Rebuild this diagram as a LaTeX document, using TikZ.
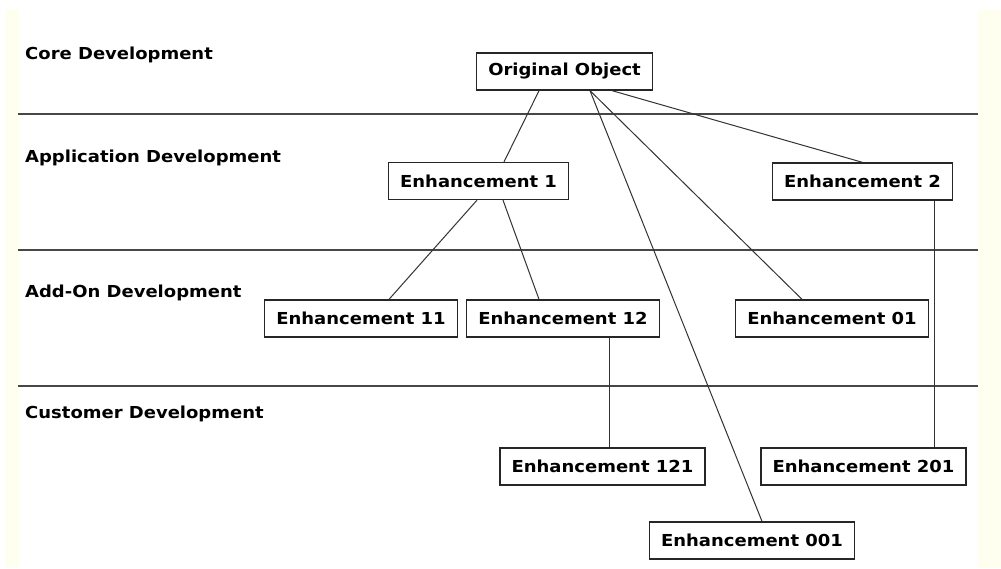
\documentclass[tikz,border=0pt]{standalone}
\usepackage{fontspec}
\setmainfont{DejaVu Sans}[FakeStretch=1.09]
\usetikzlibrary{positioning}
\definecolor{margincream}{HTML}{FFFFF0}
\tikzset{
  lane/.style={draw=black!72, line width=1.5pt},
  lanelabel/.style={anchor=base west, inner sep=0pt, font=\fontsize{16.5}{18}\selectfont\bfseries},
  objbox/.style={draw=black!85, line width=1.3pt, fill=white, minimum height=37pt,
    inner xsep=11.5pt, inner ysep=0pt, font=\fontsize{16.5}{18}\selectfont\bfseries},
  link/.style={draw=black!80, line width=1pt}
}
\begin{document}
\begin{tikzpicture}[x=1pt, y=-1pt]
  % page area and side margins
  \useasboundingbox (0,0) rectangle (1001,568);
  \fill[white] (0,0) rectangle (1001,568);
  \fill[margincream] (5,9) rectangle (19,568);
  \fill[margincream] (977,9) rectangle (1001,568);

  % swim lanes
  \coordinate (l1w) at (18,114);  \coordinate (l1e) at (978,114);
  \coordinate (l2w) at (18,250);  \coordinate (l2e) at (978,250);
  \coordinate (l3w) at (18,386);  \coordinate (l3e) at (978,386);
  \draw[lane] (l1w) -- (l1e);
  \draw[lane] (l2w) -- (l2e);
  \draw[lane] (l3w) -- (l3e);

  \node[lanelabel] (core) at (25,59)  {Core Development};
  \node[lanelabel] (app)  at (25,162) {Application Development};
  \node[lanelabel] (addon) at (25,297) {Add-On Development};
  \node[lanelabel] (cust) at (25,418) {Customer Development};

  % objects
  \node[objbox] (oo)   at (564.5,71.5) {Original Object};
  \node[objbox, anchor=west] (e1) at (388,181) {Enhancement 1};
  \node[objbox] (e2)   at (862.5,181.5) {Enhancement 2};
  \node[objbox] (e11)  at (361,318.5) {Enhancement 11};
  \node[objbox] (e12)  at (563,318.5) {Enhancement 12};
  \node[objbox] (e01)  at (832,318.5) {Enhancement 01};
  \node[objbox] (e121) at (602.5,466.5) {Enhancement 121};
  \node[objbox] (e201) at (863.5,466.5) {Enhancement 201};
  \node[objbox] (e001) at (752,540.5) {Enhancement 001};

  % derivation links
  \draw[link] ([xshift=-25.5pt]oo.south) -- ([xshift=116pt]e1.north west);
  \draw[link] ([xshift=25.5pt]oo.south) -- ([xshift=10pt]e001.north);
  \draw[link] ([xshift=25.5pt]oo.south) -- ([xshift=-30pt]e01.north);
  \draw[link] ([xshift=47.5pt]oo.south) -- (e2.north);
  \draw[link] ([xshift=89pt]e1.south west) -- ([xshift=28pt]e11.north);
  \draw[link] ([xshift=115pt]e1.south west) -- ([xshift=-24pt]e12.north);
  \draw[link] ([xshift=46pt]e12.south) coordinate (d12) -- (d12 |- e121.north);
  \draw[link] ([xshift=-19pt]e2.south east) coordinate (d2) -- (d2 |- e201.north);
\end{tikzpicture}
\end{document}
